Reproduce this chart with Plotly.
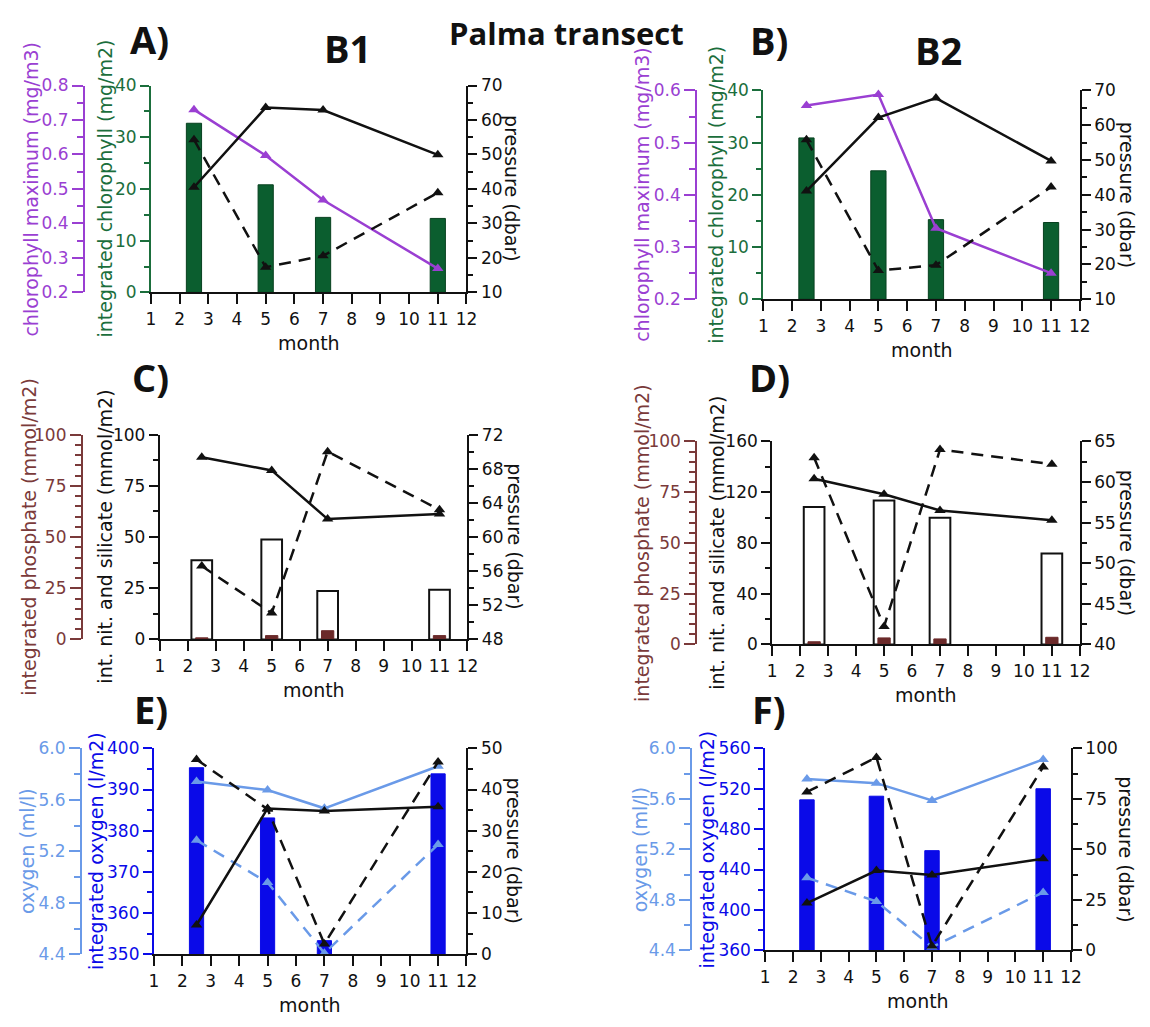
import plotly.graph_objects as go

W, H = 1150, 1027
FONT = "DejaVu Sans"
BOLD = "Open Sans"

# ---------------- data ----------------
months = [2.5, 5, 7, 11]

# A) station B1 - chlorophyll
b1_int_chl = [32.7, 20.8, 14.5, 14.3]
b1_chl_max = [0.730, 0.597, 0.468, 0.269]
b1_chl_p_solid = [40.5, 63.6, 62.9, 49.9]
b1_chl_p_dashed = [54.3, 17.3, 20.6, 38.9]

# B) station B2 - chlorophyll
b2_int_chl = [30.9, 24.6, 15.25, 14.7]
b2_chl_max = [0.571, 0.592, 0.336, 0.250]
b2_chl_p_solid = [41.1, 62.2, 67.8, 49.75]
b2_chl_p_dashed = [55.8, 18.25, 19.8, 42.25]

# C) station B1 - nutrients
b1_nitsil = [38.7, 48.8, 23.7, 24.3]
b1_phos = [0.8, 1.9, 4.3, 1.9]
b1_nut_p_solid = [69.35, 67.8, 62.1, 62.7]
b1_nut_p_dashed = [56.6, 51.1, 70.0, 63.2]

# D) station B2 - nutrients
b2_nitsil = [108.4, 113.5, 99.9, 71.7]
b2_phos = [1.3, 3.2, 2.7, 3.5]
b2_nut_p_solid = [60.4, 58.5, 56.5, 55.3]
b2_nut_p_dashed = [63.0, 42.2, 64.0, 62.2]

# E) station B1 - oxygen
b1_int_oxy = [395.3, 383.1, 353.3, 393.8]
b1_oxy_solid = [5.742, 5.676, 5.534, 5.861]
b1_oxy_dashed = [5.286, 4.957, 4.408, 5.253]
b1_oxy_p_solid = [7.1, 35.4, 34.8, 35.8]
b1_oxy_p_dashed = [47.3, 35.2, 2.5, 46.7]

# F) station B2 - oxygen
b2_int_oxy = [509.0, 512.6, 458.7, 520.0]
b2_oxy_solid = [5.757, 5.724, 5.587, 5.912]
b2_oxy_dashed = [4.975, 4.787, 4.426, 4.859]
b2_oxy_p_solid = [23.4, 39.5, 37.3, 45.3]
b2_oxy_p_dashed = [78.4, 95.5, 2.1, 90.8]

# ---------------- colours ----------------
PURPLE = "#9a3fd2"
GREEN = "#0b5e2f"
GREEN_T = "#1b6e3c"
BROWN = "#6b2a2a"
BROWN_T = "#7a3a3a"
BLUE = "#0a0ae8"
LBLUE = "#6a9ae8"
BLACK = "#111111"
DASH = "12px,8px"


def fx(p):
    return p / W


def fy(p):
    return 1 - p / H


def aname(k, n):
    return f"{k}axis" + ("" if n == 1 else str(n))


def aref(k, n):
    return k + ("" if n == 1 else str(n))


panels = [
    dict(geom=(148, 468, 77, 288, 80), tpos=(26, 101, 514),
         main=dict(range=[0, 40], dtick=10, minor=5, color=GREEN_T, fmt="", title="integrated chlorophyll (mg/m2)"),
         outer=dict(range=[0.2, 0.8], dtick=0.1, minor=0.05, color=PURPLE, fmt=".1f", title="chlorophyll maximum (mg/m3)"),
         right=dict(range=[10, 70], dtick=10, minor=5),
         bars=[(b1_int_chl, "main", 0.53, GREEN, "#07401f", 1)],
         lines=[(b1_chl_max, "outer", PURPLE, "solid"),
                (b1_chl_p_solid, "right", BLACK, "solid"),
                (b1_chl_p_dashed, "right", BLACK, DASH)]),
    dict(geom=(769, 1090, 82, 295, 701), tpos=(646, 721, 1138),
         main=dict(range=[0, 40], dtick=10, minor=5, color=GREEN_T, fmt="", title="integrated chlorophyll (mg/m2)"),
         outer=dict(range=[0.2, 0.6], dtick=0.1, minor=0.05, color=PURPLE, fmt=".1f", title="chlorophyll maximum (mg/m3)"),
         right=dict(range=[10, 70], dtick=10, minor=5),
         bars=[(b2_int_chl, "main", 0.53, GREEN, "#07401f", 1)],
         lines=[(b2_chl_max, "outer", PURPLE, "solid"),
                (b2_chl_p_solid, "right", BLACK, "solid"),
                (b2_chl_p_dashed, "right", BLACK, DASH)]),
    dict(geom=(157, 469, 433, 642, 78), tpos=(24, 101, 517),
         main=dict(range=[0, 100], dtick=25, minor=12.5, color=BLACK, fmt="", title="int. nit. and silicate (mmol/m2)"),
         outer=dict(range=[0, 100], dtick=25, minor=5, color=BROWN_T, fmt="", title="integrated phosphate (mmol/m2)"),
         right=dict(range=[48, 72], dtick=4, minor=2),
         bars=[(b1_nitsil, "main", 0.74, "white", BLACK, 2),
               (b1_phos, "outer", 0.44, BROWN, BROWN, 1)],
         lines=[(b1_nut_p_solid, "right", BLACK, "solid"),
                (b1_nut_p_dashed, "right", BLACK, DASH)]),
    dict(geom=(778, 1090, 440, 647, 701), tpos=(646, 722, 1138),
         main=dict(range=[0, 160], dtick=40, minor=20, color=BLACK, fmt="", title="int. nit. and silicate (mmol/m2)"),
         outer=dict(range=[0, 100], dtick=25, minor=5, color=BROWN_T, fmt="", title="integrated phosphate (mmol/m2)"),
         right=dict(range=[40, 65], dtick=5, minor=2.5),
         bars=[(b2_nitsil, "main", 0.74, "white", BLACK, 2),
               (b2_phos, "outer", 0.44, BROWN, BROWN, 1)],
         lines=[(b2_nut_p_solid, "right", BLACK, "solid"),
                (b2_nut_p_dashed, "right", BLACK, DASH)]),
    dict(geom=(151, 468, 753, 963, 77), tpos=(23, 93, 516),
         main=dict(range=[350, 400], dtick=10, minor=5, color=BLUE, fmt="", title="integrated oxygen (l/m2)"),
         outer=dict(range=[4.4, 6.0], dtick=0.4, minor=0.2, color=LBLUE, fmt=".1f", title="oxygen (ml/l)"),
         right=dict(range=[0, 50], dtick=10, minor=5),
         bars=[(b1_int_oxy, "main", 0.5, BLUE, BLUE, 1)],
         lines=[(b1_oxy_solid, "outer", LBLUE, "solid"),
                (b1_oxy_dashed, "outer", LBLUE, DASH),
                (b1_oxy_p_solid, "right", BLACK, "solid"),
                (b1_oxy_p_dashed, "right", BLACK, DASH)]),
    dict(geom=(771, 1081, 753, 959, 696), tpos=(644, 712, 1136),
         main=dict(range=[360, 560], dtick=40, minor=20, color=BLUE, fmt="", title="integrated oxygen (l/m2)"),
         outer=dict(range=[4.4, 6.0], dtick=0.4, minor=0.2, color=LBLUE, fmt=".1f", title="oxygen (ml/l)"),
         right=dict(range=[0, 100], dtick=25, minor=12.5),
         bars=[(b2_int_oxy, "main", 0.52, BLUE, BLUE, 1)],
         lines=[(b2_oxy_solid, "outer", LBLUE, "solid"),
                (b2_oxy_dashed, "outer", LBLUE, DASH),
                (b2_oxy_p_solid, "right", BLACK, "solid"),
                (b2_oxy_p_dashed, "right", BLACK, DASH)]),
]

fig = go.Figure()
layout = {}
annotations = []


def yaxis_style(spec, color, ticklen, minorlen):
    return dict(
        range=spec["range"], tick0=spec["range"][0], dtick=spec["dtick"],
        tickformat=spec.get("fmt", ""),
        ticks="outside", ticklen=ticklen, tickwidth=1.5, tickcolor=color,
        showline=True, linecolor=color, linewidth=2,
        showgrid=False, zeroline=False,
        tickfont=dict(family=FONT, size=17, color=color),
        minor=dict(ticks="outside", ticklen=minorlen, tickwidth=1.5, tickcolor=color,
                   dtick=spec["minor"], tick0=spec["range"][0], showgrid=False),
        fixedrange=True,
    )


for i, p in enumerate(panels):
    n = i + 1
    ym, yo, yr = 3 * i + 1, 3 * i + 2, 3 * i + 3
    x0, x1, yt, yb, xo = p["geom"]
    xdom = [fx(x0), fx(x1)]
    ydom = [fy(yb), fy(yt)]

    layout[aname("x", n)] = dict(
        domain=xdom, anchor=aref("y", ym), range=[1, 12], tick0=1, dtick=1,
        ticks="outside", ticklen=10, tickwidth=1.5, tickcolor=BLACK,
        showline=True, linecolor=BLACK, linewidth=2, showgrid=False, zeroline=False,
        tickfont=dict(family=FONT, size=17, color=BLACK), fixedrange=True,
    )
    m = yaxis_style(p["main"], p["main"]["color"], 9, 5)
    m.update(domain=ydom, anchor=aref("x", n), side="left")
    layout[aname("y", ym)] = m

    o = yaxis_style(p["outer"], p["outer"]["color"], 11, 6)
    o.update(domain=ydom, overlaying=aref("y", ym), anchor="free", position=fx(xo), side="left")
    layout[aname("y", yo)] = o

    r = yaxis_style(p["right"], BLACK, 9, 5)
    r.update(domain=ydom, overlaying=aref("y", ym), anchor=aref("x", n), side="right")
    layout[aname("y", yr)] = r

    axmap = {"main": ym, "outer": yo, "right": yr}

    for vals, ax, w, fill, lc, lw in p["bars"]:
        fig.add_trace(go.Bar(
            x=months, y=vals, width=w, offset=-w / 2,
            xaxis=aref("x", n), yaxis=aref("y", axmap[ax]),
            marker=dict(color=fill, line=dict(color=lc, width=lw)),
            showlegend=False, hoverinfo="skip",
        ))
    for vals, ax, col, dash in p["lines"]:
        fig.add_trace(go.Scatter(
            x=months, y=vals, mode="lines+markers",
            xaxis=aref("x", n), yaxis=aref("y", axmap[ax]),
            line=dict(color=col, width=2.5, dash=dash),
            marker=dict(symbol="triangle-up", size=10, color=col),
            showlegend=False, hoverinfo="skip", cliponaxis=False,
        ))

    # axis titles
    tx_o, tx_m, tx_r = p["tpos"]
    yc = fy((yt + yb) / 2)
    annotations.append(dict(x=fx(tx_o), y=yc, text=p["outer"]["title"], textangle=-90,
                            font=dict(family=FONT, size=19, color=p["outer"]["color"])))
    annotations.append(dict(x=fx(tx_m), y=yc, text=p["main"]["title"], textangle=-90,
                            font=dict(family=FONT, size=19, color=p["main"]["color"])))
    annotations.append(dict(x=fx(tx_r), y=yc, text="pressure (dbar)", textangle=90,
                            font=dict(family=FONT, size=19, color=BLACK)))
    annotations.append(dict(x=fx((x0 + x1) / 2), y=fy(yb + 52), text="month",
                            font=dict(family=FONT, size=19, color=BLACK)))

labels = [
    ("A)", 147, 30, 38), ("B1", 347, 39, 38), ("Palma transect", 569, 23, 31),
    ("B)", 775, 31, 38), ("B2", 947, 41, 38),
    ("C)", 148, 374, 38), ("D)", 775, 374, 38),
    ("E)", 148, 713, 38), ("F)", 775, 713, 38),
]
for t, x, y, s in labels:
    annotations.append(dict(x=fx(x), y=fy(y), text=f"<b>{t}</b>",
                            font=dict(family=BOLD, size=s, color=BLACK)))

for a in annotations:
    a.update(xref="paper", yref="paper", showarrow=False, xanchor="center", yanchor="middle")

fig.update_layout(
    width=W, height=H, margin=dict(l=0, r=0, t=0, b=0),
    paper_bgcolor="white", plot_bgcolor="white",
    showlegend=False, barmode="overlay",
    annotations=annotations, **layout,
)

fig.write_html("out.html")
